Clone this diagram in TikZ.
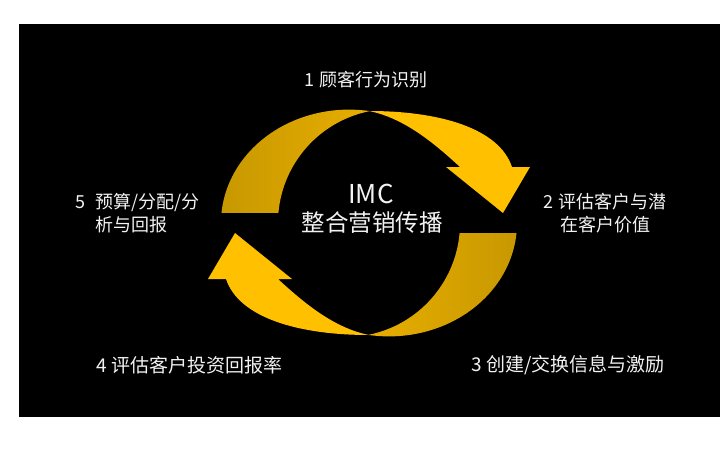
\documentclass[tikz,border=0pt]{standalone}
\usepackage{fontspec}
\newfontfamily\cjkfont{Noto Sans CJK SC}
\definecolor{goldbright}{HTML}{FFC000}
\definecolor{golddark}{HTML}{C79800}
\definecolor{goldmid}{HTML}{E8AE00}
\definecolor{txt}{HTML}{F2F2F2}
\begin{document}
\begin{tikzpicture}[x=1pt,y=1pt,
  lbl/.style={text=txt, inner sep=0pt, font=\cjkfont\fontsize{18pt}{23pt}\selectfont},
  lblbig/.style={text=txt, inner sep=0pt, font=\cjkfont\fontsize{19pt}{23pt}\selectfont},
  darkpart/.style={left color=golddark, right color=goldmid},
  darkpartrev/.style={left color=goldmid, right color=golddark},
  brightpart/.style={fill=goldbright}]
% canvas
\fill[white] (-369,-227) rectangle (351,223);
\useasboundingbox (-369,-227) rectangle (351,223);
\fill[black] (-350,-194) rectangle (351,199);
% upper arrow: dark crescent + bright head
\shade[darkpart] (0,112) arc[start angle=81,end angle=174.9,x radius=128pt,y radius=113.4pt]
  -- (-90.6,10) arc[start angle=175,end angle=101.6,radius=114pt] -- cycle;
\path[brightpart] (0,112) .. controls (70,112) and (130,95) .. (143,56)
  -- (161,56) -- (134,10) -- (77,56) -- (91,56)
  .. controls (65,80) and (35,105) .. (0,112) -- cycle;
% lower arrow (point reflection of the upper one)
\shade[darkpartrev] (0,-112) arc[start angle=261,end angle=354.9,x radius=128pt,y radius=113.4pt]
  -- (90.6,-10) arc[start angle=355,end angle=281.6,radius=114pt] -- cycle;
\path[brightpart] (0,-112) .. controls (-70,-112) and (-130,-95) .. (-143,-56)
  -- (-161,-56) -- (-134,-10) -- (-77,-56) -- (-91,-56)
  .. controls (-65,-80) and (-35,-105) .. (0,-112) -- cycle;
% centre text
\node[text=txt, inner sep=0pt, font=\cjkfont\fontsize{26pt}{30pt}\selectfont] (imc) at (2,29.5) {IMC};
\node[text=txt, inner sep=0pt, font=\cjkfont\fontsize{23.5pt}{28pt}\selectfont] (imccn) at (3.5,0) {整合营销传播};
% labels
\node[lbl] (l1) at (-3,143) {1 顾客行为识别};
\node[lbl, align=center] (l2) at (236,9.5) {2 评估客户与潜\\在客户价值};
\node[lblbig] (l3) at (199,-142) {3 创建/交换信息与激励};
\node[lblbig] (l4) at (-179.5,-142) {4 评估客户投资回报率};
\node[lbl, align=left, anchor=west] (l5) at (-294,9.5) {5\hspace{10pt}预算/分配/分\\\phantom{5}\hspace{10pt}析与回报};
\end{tikzpicture}
\end{document}
